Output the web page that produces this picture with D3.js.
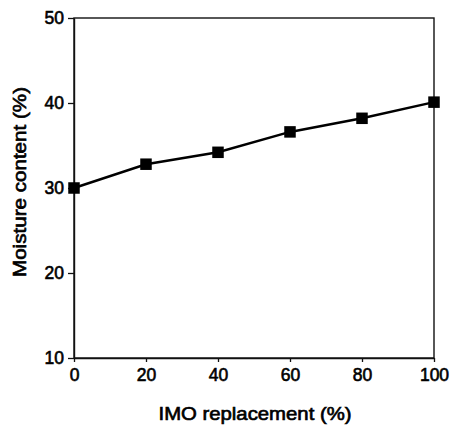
<!DOCTYPE html>
<html>
<head>
<meta charset="utf-8">
<script src="https://cdn.jsdelivr.net/npm/d3@7/dist/d3.min.js"></script>
<style>
  html, body { margin: 0; padding: 0; background: #fff; }
  svg { display: block; }
  text { font-family: "Liberation Sans", Arial, Helvetica, sans-serif; fill: #000; }
</style>
</head>
<body>
<svg id="chart" width="458" height="428"></svg>
<script>
// Data
const replacement = [0, 20, 40, 60, 80, 100];           // IMO replacement (%)
const moisture    = [30.0, 32.8, 34.2, 36.6, 38.2, 40.1]; // Moisture content (%)
const xTicks = [0, 20, 40, 60, 80, 100];
const yTicks = [10, 20, 30, 40, 50];
const xTitle = "IMO replacement (%)";
const yTitle = "Moisture content (%)";

(function () {
const svg = d3.select("#chart");
const mLeft = 74, mRight = 434, mTop = 18, mBottom = 358;

const x = d3.scaleLinear().domain([0, 100]).range([mLeft, mRight]);
const y = d3.scaleLinear().domain([10, 50]).range([mBottom, mTop]);

// frame
svg.append("rect")
  .attr("x", mLeft).attr("y", mTop)
  .attr("width", mRight - mLeft).attr("height", mBottom - mTop)
  .attr("fill", "none").attr("stroke", "#111").attr("stroke-width", 1.4);

// axes
const xAxis = svg.append("g")
  .attr("transform", `translate(0,${mBottom})`)
  .call(d3.axisBottom(x).tickValues(xTicks).tickSize(4).tickPadding(7).tickSizeOuter(0));
const yAxis = svg.append("g")
  .attr("transform", `translate(${mLeft},0)`)
  .call(d3.axisLeft(y).tickValues(yTicks).tickSize(6).tickPadding(4).tickSizeOuter(0));

[xAxis, yAxis].forEach(g => {
  g.select(".domain").attr("stroke", "#111").attr("stroke-width", 1.4);
  g.selectAll(".tick line").attr("stroke", "#111").attr("stroke-width", 1.3);
  g.selectAll(".tick text")
    .style("font-family", '"Liberation Sans", Arial, sans-serif')
    .style("font-size", "17.5px")
    .attr("fill", "#000")
    .attr("stroke", "#000").attr("stroke-width", 0.6);
});

// line
const line = d3.line()
  .x((d, i) => x(replacement[i]))
  .y(d => y(d));
svg.append("path")
  .datum(moisture)
  .attr("d", line)
  .attr("fill", "none")
  .attr("stroke", "#000")
  .attr("stroke-width", 2.5);

// markers
const ms = 11.5;
svg.selectAll("rect.pt")
  .data(moisture)
  .join("rect")
  .attr("class", "pt")
  .attr("x", (d, i) => x(replacement[i]) - ms / 2)
  .attr("y", d => y(d) - ms / 2)
  .attr("width", ms).attr("height", ms)
  .attr("fill", "#000");

// titles
svg.append("text")
  .attr("x", (mLeft + mRight) / 2 + 1)
  .attr("y", 420)
  .attr("text-anchor", "middle")
  .attr("textLength", 193).attr("lengthAdjust", "spacingAndGlyphs")
  .style("font-size", "18.5px")
  .attr("stroke", "#000").attr("stroke-width", 0.65)
  .text(xTitle);

svg.append("text")
  .attr("transform", `translate(26,182) rotate(-90)`)
  .attr("text-anchor", "middle")
  .attr("textLength", 190).attr("lengthAdjust", "spacingAndGlyphs")
  .style("font-size", "18.5px")
  .attr("stroke", "#000").attr("stroke-width", 0.65)
  .text(yTitle);
})();
</script>
</body>
</html>
